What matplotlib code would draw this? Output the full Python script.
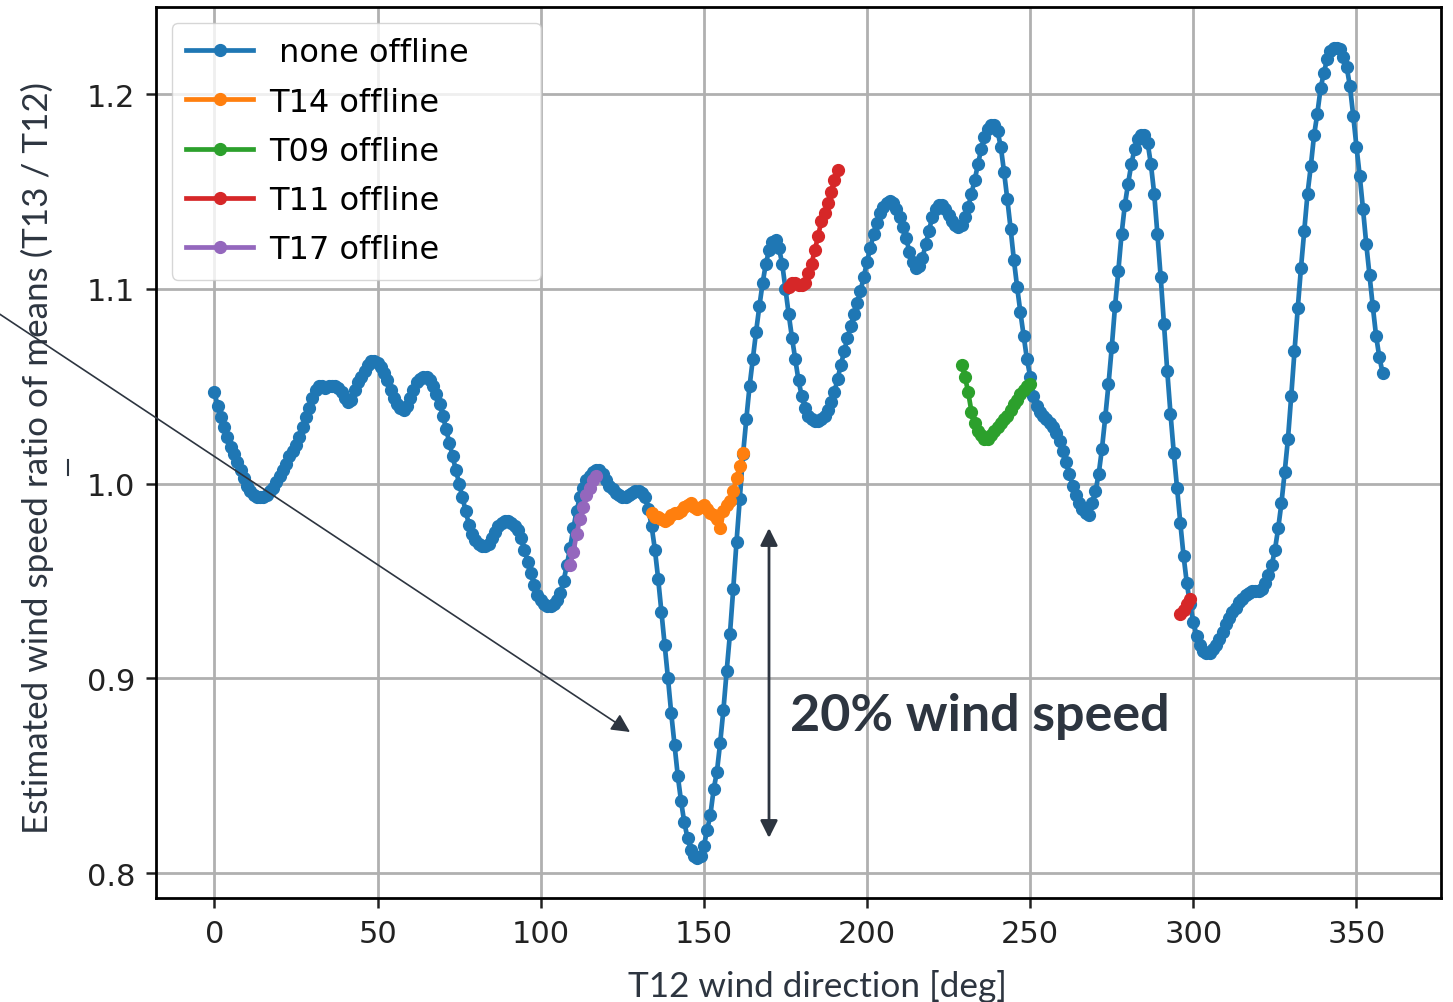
import matplotlib
matplotlib.use("Agg")
import matplotlib.pyplot as plt
from matplotlib.lines import Line2D
import numpy as np

# T12 wind direction bins [deg]
wd = np.arange(0, 359)

# ratio of means T13/T12, all turbines online
none_offline = [
    1.047, 1.040, 1.034, 1.029, 1.024, 1.019, 1.015, 1.011, 1.007, 1.003,
    0.999, 0.996, 0.994, 0.993, 0.993, 0.993, 0.994, 0.996, 0.998, 1.001,
    1.004, 1.007, 1.010, 1.014, 1.017, 1.020, 1.024, 1.029, 1.034, 1.039,
    1.044, 1.048, 1.050, 1.050, 1.049, 1.050, 1.050, 1.050, 1.049, 1.047,
    1.044, 1.042, 1.043, 1.048, 1.052, 1.055, 1.058, 1.061, 1.063, 1.063,
    1.062, 1.060, 1.057, 1.053, 1.048, 1.044, 1.041, 1.039, 1.038, 1.040,
    1.044, 1.048, 1.052, 1.054, 1.055, 1.055, 1.053, 1.050, 1.046, 1.041,
    1.035, 1.028, 1.021, 1.014, 1.007, 1.000, 0.993, 0.986, 0.979, 0.974,
    0.971, 0.969, 0.968, 0.968, 0.969, 0.972, 0.975, 0.978, 0.980, 0.981,
    0.981, 0.980, 0.978, 0.976, 0.972, 0.966, 0.960, 0.954, 0.948, 0.943,
    0.940, 0.938, 0.937, 0.937, 0.938, 0.940, 0.944, 0.950, 0.958, 0.967,
    0.977, 0.986, 0.993, 0.998, 1.002, 1.004, 1.006, 1.007, 1.007, 1.005,
    1.002, 0.999, 0.997, 0.995, 0.994, 0.993, 0.993, 0.994, 0.995, 0.996,
    0.996, 0.995, 0.993, 0.987, 0.978, 0.966, 0.951, 0.934, 0.917, 0.900,
    0.882, 0.866, 0.850, 0.837, 0.826, 0.818, 0.812, 0.809, 0.808, 0.809,
    0.814, 0.822, 0.830, 0.843, 0.852, 0.867, 0.884, 0.904, 0.923, 0.946,
    0.970, 0.992, 1.015, 1.033, 1.050, 1.064, 1.078, 1.091, 1.103, 1.113,
    1.120, 1.124, 1.125, 1.121, 1.113, 1.100, 1.087, 1.075, 1.064, 1.053,
    1.045, 1.039, 1.035, 1.033, 1.032, 1.032, 1.033, 1.035, 1.038, 1.042,
    1.047, 1.054, 1.061, 1.068, 1.075, 1.081, 1.087, 1.093, 1.099, 1.106,
    1.114, 1.121, 1.128, 1.134, 1.139, 1.142, 1.144, 1.145, 1.144, 1.141,
    1.137, 1.132, 1.126, 1.119, 1.114, 1.111, 1.112, 1.116, 1.123, 1.130,
    1.137, 1.141, 1.143, 1.143, 1.141, 1.138, 1.135, 1.133, 1.132, 1.133,
    1.137, 1.142, 1.149, 1.156, 1.164, 1.172, 1.178, 1.182, 1.184, 1.184,
    1.181, 1.173, 1.160, 1.146, 1.131, 1.115, 1.101, 1.088, 1.076, 1.064,
    1.055, 1.045, 1.040, 1.037, 1.035, 1.033, 1.031, 1.029, 1.026, 1.022,
    1.017, 1.011, 1.005, 0.999, 0.994, 0.990, 0.987, 0.985, 0.984, 0.990,
    0.996, 1.005, 1.018, 1.034, 1.051, 1.070, 1.091, 1.109, 1.128, 1.143,
    1.154, 1.164, 1.172, 1.177, 1.179, 1.179, 1.175, 1.164, 1.149, 1.128,
    1.106, 1.082, 1.058, 1.036, 1.016, 0.998, 0.980, 0.963, 0.949, 0.938,
    0.929, 0.922, 0.917, 0.914, 0.913, 0.913, 0.915, 0.917, 0.920, 0.924,
    0.928, 0.931, 0.934, 0.936, 0.939, 0.941, 0.943, 0.944, 0.945, 0.945,
    0.945, 0.946, 0.949, 0.953, 0.958, 0.966, 0.977, 0.990, 1.006, 1.023,
    1.045, 1.068, 1.090, 1.111, 1.130, 1.149, 1.163, 1.179, 1.190, 1.203,
    1.211, 1.218, 1.222, 1.224, 1.224, 1.223, 1.219, 1.214, 1.204, 1.189,
    1.173, 1.158, 1.141, 1.123, 1.107, 1.091, 1.076, 1.065, 1.057,
]

wd_t14 = np.arange(134, 163)
t14_offline = [
    0.985, 0.983, 0.983, 0.982, 0.981, 0.982, 0.984, 0.985, 0.985, 0.986,
    0.988, 0.989, 0.990, 0.988, 0.987, 0.988, 0.989, 0.987, 0.985, 0.984,
    0.982, 0.977, 0.986, 0.989, 0.991, 0.996, 1.003, 1.009, 1.016,
]

wd_t09 = np.arange(229, 251)
t09_offline = [
    1.061, 1.055, 1.047, 1.037, 1.031, 1.027, 1.025, 1.023, 1.023, 1.025,
    1.027, 1.029, 1.031, 1.033, 1.035, 1.038, 1.041, 1.043, 1.046, 1.048,
    1.050, 1.051,
]

# two separate stretches, gap -> nan
wd_t11 = [176, 177, 178, 179, 180, 181, 182, 183, 184, 185, 186, 187, 188,
          189, 190, 191, 192, 296, 297, 298, 299]
t11_offline = [1.101, 1.103, 1.103, 1.102, 1.102, 1.103, 1.108, 1.113, 1.120,
               1.127, 1.135, 1.139, 1.144, 1.150, 1.156, 1.161, np.nan,
               0.933, 0.935, 0.938, 0.941]

wd_t17 = np.arange(109, 118)
t17_offline = [0.958, 0.965, 0.974, 0.982, 0.988, 0.994, 0.998, 1.002, 1.004]

W, H = 1453, 1003
ink = "#2d3540"
ann_font = ["Lato", "DejaVu Sans"]


def fpos(px, py):
    # figure pixel (from top-left) -> figure fraction
    return px / W, 1 - py / H


fig = plt.figure(figsize=(W / 100, H / 100), dpi=100)
ax = fig.add_axes([156 / W, 1 - 899 / H, (1441 - 156) / W, (899 - 8) / H])

kw = dict(marker="o", markersize=8.5, lw=3.4)
ax.plot(wd, none_offline, color="#1f77b4", label=" none offline", **kw)
ax.plot(wd_t14, t14_offline, color="#ff7f0e", label="T14 offline", **kw)
ax.plot(wd_t09, t09_offline, color="#2ca02c", label="T09 offline", **kw)
ax.plot(wd_t11, t11_offline, color="#d62728", label="T11 offline", **kw)
ax.plot(wd_t17, t17_offline, color="#9467bd", label="T17 offline", **kw)

ax.set_xticks([0, 50, 100, 150, 200, 250, 300, 350])
ax.set_yticks([0.8, 0.9, 1.0, 1.1, 1.2])
ax.grid(True, color="#b0b0b0", lw=2)
ax.tick_params(labelsize=22, length=7, width=1.8, pad=8, colors="#222222")
for s in ax.spines.values():
    s.set_linewidth(2)

ax.legend(loc="upper left", bbox_to_anchor=(0, 0, 0.312, 1), mode="expand",
          fontsize=23, handlelength=2.1, handletextpad=0.5,
          borderaxespad=0.5, borderpad=0.45, labelspacing=0.57)

# overlay annotations
fig.text(*fpos(818, 997), "T12 wind direction [deg]", ha="center",
         va="baseline", fontsize=25.3, color=ink, family=ann_font)
fig.text(*fpos(37, 458), "Estimated wind speed ratio of means (T13 / T12)",
         ha="center", va="center", rotation=90, fontsize=25.2, color=ink,
         family=ann_font)
fig.add_artist(Line2D([68 / W, 68 / W], [1 - 461 / H, 1 - 476 / H],
                      transform=fig.transFigure, color=ink, lw=1.5))

fig.text(*fpos(790, 731), "20% wind speed", ha="left", va="baseline",
         fontsize=37.5, fontweight="bold", color=ink, family=ann_font)

ax.annotate("", xy=fpos(630, 733), xytext=fpos(-5, 312),
            xycoords="figure fraction", textcoords="figure fraction",
            arrowprops=dict(arrowstyle="-|>", color=ink, lw=1.2,
                            mutation_scale=28, shrinkA=0, shrinkB=0),
            annotation_clip=False)
ax.annotate("", xy=fpos(769, 529), xytext=fpos(769, 839),
            xycoords="figure fraction", textcoords="figure fraction",
            arrowprops=dict(arrowstyle="<|-|>", color=ink, lw=2,
                            mutation_scale=26, shrinkA=0, shrinkB=0),
            annotation_clip=False)

fig.savefig("out.png", dpi=100)
